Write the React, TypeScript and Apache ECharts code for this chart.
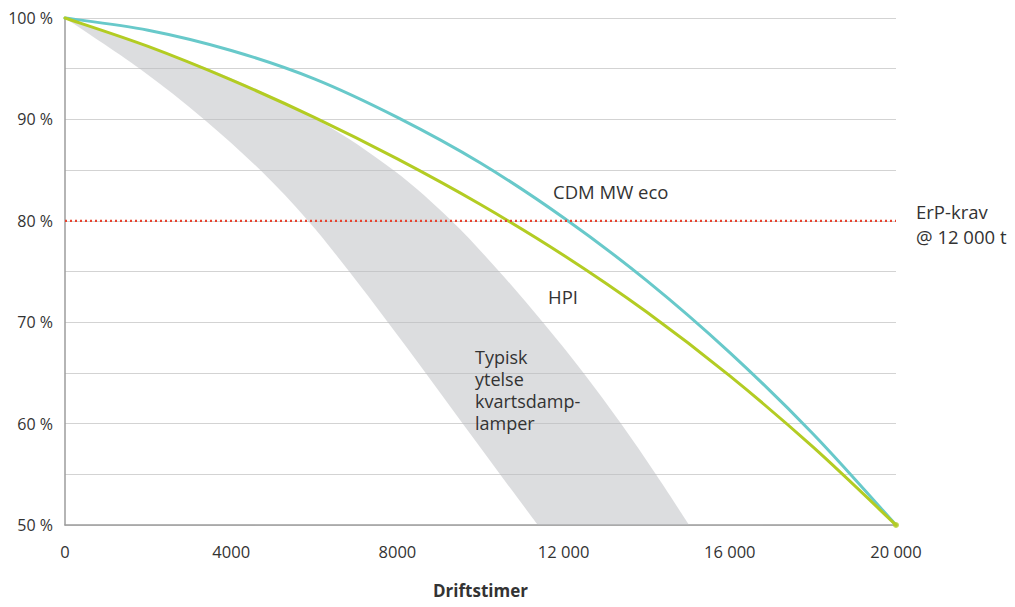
import React, { useEffect, useRef } from "react";
import * as echarts from "echarts";

// Operating hours vs. luminous flux maintenance (%)
const hours = [0, 2000, 4000, 6000, 8000, 10000, 12000, 14000, 16000, 18000, 20000];
const cdmLevel = [100, 98.8, 96.8, 94.0, 90.2, 85.7, 80.3, 74.1, 67.0, 59.0, 50];
const hpiLevel = [100, 97.2, 93.9, 90.2, 86.1, 81.6, 76.6, 71.0, 64.7, 57.7, 50];

// Typical quartz mercury lamps band (edges read at each level)
const bandLevels = [100, 95, 90, 85, 80, 75, 70, 65, 60, 55, 50];
const bandLowerHours = [0, 1800, 3350, 4700, 5850, 6840, 7770, 8680, 9570, 10470, 11380];
const bandUpperHours = [0, 3450, 6050, 7900, 9300, 10450, 11500, 12480, 13380, 14220, 15020];

const erpLevel = 80;
const erpHours = [0, 20000];

const xTicks = [0, 4000, 8000, 12000, 16000, 20000];
const yTicks = [50, 60, 70, 80, 90, 100];

const FONT = "Open Sans";
const TEXT = "#333333";
const TEAL = "#68c9ca";
const LIME = "#b3cc23";
const RED = "#e8432e";

function fmtHours(v: number): string {
  if (v < 10000) return String(v);
  const th = Math.floor(v / 1000);
  const rest = String(v % 1000).padStart(3, "0");
  return `${th} ${rest}`;
}

function catmullPath(pts: number[][], start: boolean): string {
  let d = start ? `M${pts[0][0]},${pts[0][1]}` : `L${pts[0][0]},${pts[0][1]}`;
  for (let i = 0; i < pts.length - 1; i++) {
    const p0 = pts[i - 1] || pts[i];
    const p1 = pts[i];
    const p2 = pts[i + 1];
    const p3 = pts[i + 2] || p2;
    const c1x = p1[0] + (p2[0] - p0[0]) / 6;
    const c1y = p1[1] + (p2[1] - p0[1]) / 6;
    const c2x = p2[0] - (p3[0] - p1[0]) / 6;
    const c2y = p2[1] - (p3[1] - p1[1]) / 6;
    d += ` C${c1x},${c1y} ${c2x},${c2y} ${p2[0]},${p2[1]}`;
  }
  return d;
}

function curveSeries(name: string, xs: number[], ys: number[], color: string, z: number) {
  return {
    type: "custom",
    name,
    data: xs.map((h, i) => [h, ys[i]]),
    z,
    silent: true,
    renderItem: (params: any, api: any) => {
      if (params.dataIndex !== 0) return null;
      const pts = xs.map((h, i) => api.coord([h, ys[i]]));
      return {
        type: "path",
        shape: { pathData: catmullPath(pts, true) },
        style: { fill: "none", stroke: color, lineWidth: 3, lineJoin: "round", lineCap: "round" },
      };
    },
  };
}

export default function App() {
  const ref = useRef<HTMLDivElement>(null);

  useEffect(() => {
    if (!ref.current) return;
    const chart = echarts.init(ref.current, null, { renderer: "svg" });

    const annot = (text: string, x: number, y: number, extra: any = {}) => ({
      type: "text",
      x,
      y,
      z: 100,
      style: {
        text,
        fontFamily: FONT,
        fontSize: 18.5,
        fill: TEXT,
        verticalAlign: "middle",
        ...extra,
      },
    });

    const option: any = {
      animation: false,
      textStyle: { fontFamily: FONT },
      grid: { left: 65, right: 119, top: 18, bottom: 82, containLabel: false },
      xAxis: {
        type: "value",
        min: 0,
        max: 20000,
        interval: 4000,
        name: "Driftstimer",
        nameLocation: "middle",
        nameGap: 57,
        nameTextStyle: { fontFamily: FONT, fontSize: 17, fontWeight: "bold", color: TEXT },
        axisLine: { show: true, lineStyle: { color: "#9c9c9c", width: 1.5 } },
        axisTick: { show: false },
        splitLine: { show: false },
        axisLabel: {
          margin: 18,
          fontFamily: FONT,
          fontSize: 16.5,
          color: TEXT,
          formatter: (v: number) => (xTicks.includes(v) ? fmtHours(v) : ""),
        },
      },
      yAxis: {
        type: "value",
        min: 50,
        max: 100,
        interval: 5,
        axisLine: { show: true, lineStyle: { color: "#9c9c9c", width: 1.5 } },
        axisTick: { show: false },
        splitLine: { show: true, lineStyle: { color: "#d3d3d3", width: 1.2 } },
        axisLabel: {
          margin: 12,
          fontFamily: FONT,
          fontSize: 16,
          color: TEXT,
          formatter: (v: number) => (yTicks.includes(v) ? `${v} %` : ""),
        },
      },
      graphic: [
        annot("CDM MW eco", 553, 191),
        annot("HPI", 548, 296),
        annot("Typisk\nytelse\nkvartsdamp-\nlamper", 475, 346, {
          verticalAlign: "top",
          fontSize: 18,
          lineHeight: 22,
        }),
        annot("ErP-krav\n@ 12 000 t", 916, 198.5, {
          verticalAlign: "top",
          lineHeight: 25,
        }),
      ],
      series: [
        {
          type: "custom",
          name: "Typisk ytelse",
          data: [[0, 100]],
          z: 1,
          silent: true,
          renderItem: (params: any, api: any) => {
            const lower = bandLevels.map((lv, i) => api.coord([bandLowerHours[i], lv]));
            const upper = bandLevels.map((lv, i) => api.coord([bandUpperHours[i], lv])).reverse();
            const d = catmullPath(lower, true) + " " + catmullPath(upper, false) + " Z";
            return {
              type: "path",
              shape: { pathData: d },
              style: { fill: "#b9bbbf", opacity: 0.5, stroke: "none" },
            };
          },
        },
        curveSeries("CDM MW eco", hours, cdmLevel, TEAL, 3),
        curveSeries("HPI", hours, hpiLevel, LIME, 4),
        {
          type: "scatter",
          name: "HPI end",
          data: [[hours[hours.length - 1], hpiLevel[hpiLevel.length - 1]]],
          symbol: "circle",
          symbolSize: 6,
          z: 5,
          itemStyle: { color: LIME },
          silent: true,
        },
        {
          type: "line",
          name: "ErP-krav",
          data: erpHours.map((h) => [h, erpLevel]),
          symbol: "none",
          z: 6,
          lineStyle: { color: RED, width: 2.2, type: [2, 3] },
        },
      ],
    };

    chart.setOption(option);
    return () => chart.dispose();
  }, []);

  return (
    <div
      ref={ref}
      style={{ position: "absolute", left: 0, top: 0, width: 1015, height: 607 }}
    />
  );
}
